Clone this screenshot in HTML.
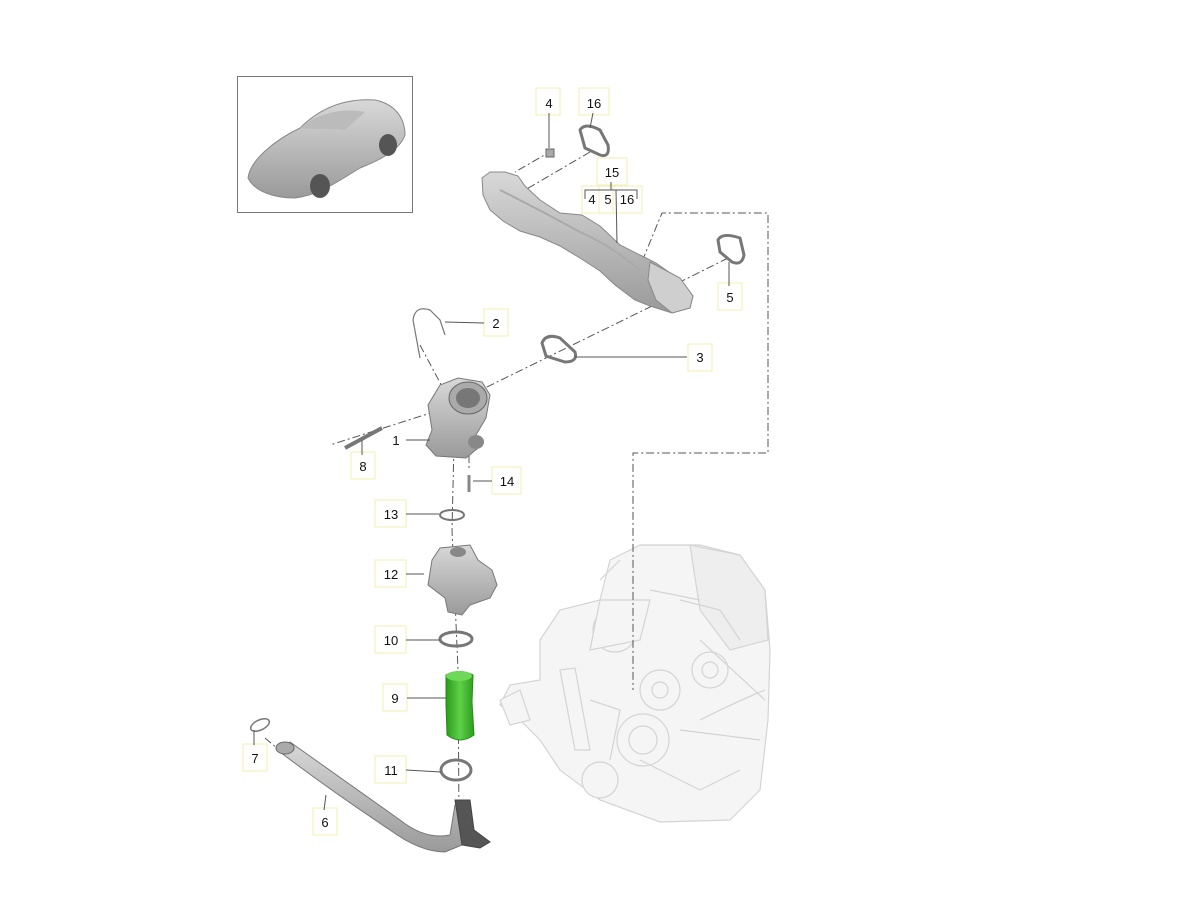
<!DOCTYPE html>
<html><head><meta charset="utf-8"><style>
html,body{margin:0;padding:0;background:#fff;width:1200px;height:900px;overflow:hidden}
text{font-family:"Liberation Sans",sans-serif;font-size:13px;fill:#111}
</style></head><body>
<svg width="1200" height="900" viewBox="0 0 1200 900" xmlns="http://www.w3.org/2000/svg">
<defs>
<linearGradient id="g" x1="0" y1="0" x2="0" y2="1"><stop offset="0" stop-color="#d8d8d8"/><stop offset="1" stop-color="#9a9a9a"/></linearGradient>
<linearGradient id="gr" x1="0" y1="0" x2="1" y2="0"><stop offset="0" stop-color="#2a9a1a"/><stop offset=".5" stop-color="#5fd04a"/><stop offset="1" stop-color="#2c9c1c"/></linearGradient>
</defs>
<rect x="237.5" y="76.5" width="175" height="136" fill="#fff" stroke="#777"/>
<path d="M248 178 C250 160 275 140 300 128 C320 108 345 98 375 100 C395 104 405 118 405 135 C400 150 380 160 360 168 C340 180 320 195 295 198 C275 198 255 192 248 178Z" fill="url(#g)" stroke="#888"/>
<ellipse cx="320" cy="186" rx="10" ry="12" fill="#555"/><ellipse cx="388" cy="145" rx="9" ry="11" fill="#555"/>
<path d="M300 128 C320 112 345 108 365 112 L345 130 C330 128 315 130 300 128Z" fill="#bbb"/>
<!-- engine -->
<g fill="#f5f5f5" stroke="#d4d4d4" stroke-width="1.2">
<path d="M540 640 L560 610 L600 600 L610 560 L640 545 L700 545 L740 555 L765 590 L770 650 L768 720 L760 790 L730 820 L660 822 L600 800 L560 770 L540 740 L520 720 L500 705 L510 685 L540 680Z"/>
<path d="M690 545 L740 555 L765 590 L768 640 L730 650 L700 610Z" fill="#eee"/>
<circle cx="643" cy="740" r="26"/><circle cx="643" cy="740" r="14"/><circle cx="660" cy="690" r="20"/><circle cx="660" cy="690" r="8"/><circle cx="710" cy="670" r="18"/><circle cx="710" cy="670" r="8"/><circle cx="615" cy="630" r="22"/><circle cx="600" cy="780" r="18"/>
<path d="M560 670 L575 750 L590 750 L575 668Z"/><path d="M500 700 L520 690 L530 720 L510 725Z"/>
<path d="M700 720 Q740 700 765 690" fill="none"/><path d="M650 590 L700 600" fill="none"/><path d="M600 580 L620 560" fill="none"/>
<path d="M590 650 L640 640 L650 600 L600 600Z"/><path d="M680 600 L720 610 L740 640" fill="none"/>
<path d="M700 640 L765 700" fill="none"/><path d="M590 700 L620 710 L610 760" fill="none"/>
<path d="M640 760 L700 790 L740 770" fill="none"/><path d="M680 730 L760 740" fill="none"/>
</g>
<!-- dash-dot -->
<g fill="none" stroke="#555" stroke-width="1" stroke-dasharray="8,3,2,3">
<path d="M636 276 L662 213 L768 213 L768 453 L633 453 L633 690"/>
<path d="M553 150 L515 172"/><path d="M590 152 L525 190"/>
<path d="M728 258 L680 282"/><path d="M652 306 L440 410 L330 445"/>
<path d="M420 345 L445 392"/><path d="M455 400 L452 530 L458 670 L459 820"/><path d="M469 455 L469 470"/><path d="M265 738 L285 755"/>
</g>
<!-- manifold -->
<path d="M482 178 L490 172 L505 172 L518 176 L525 186 L540 200 L560 213 L582 215 L600 226 L620 245 L642 256 L656 263 L680 280 L693 296 L690 308 L672 313 L650 306 L635 300 L615 285 L600 271 L580 258 L560 246 L540 237 L520 231 L503 221 L490 210 L483 195Z" fill="url(#g)" stroke="#888"/>
<path d="M650 262 L680 278 L693 296 L690 308 L672 313 L656 300 L648 280Z" fill="#cfcfcf" stroke="#888"/>
<path d="M500 190 Q540 210 580 232 Q610 245 640 270" fill="none" stroke="#aaa" stroke-width="2"/>
<rect x="546" y="149" width="8" height="8" fill="#aaa" stroke="#666"/>
<path d="M580 130 Q585 122 600 130 L608 145 Q610 158 600 155 L585 148Z" fill="none" stroke="#777" stroke-width="3"/>
<path d="M718 240 Q722 232 740 238 L744 255 Q742 266 732 262 L720 252Z" fill="none" stroke="#777" stroke-width="3"/>
<path d="M542 343 Q546 333 560 338 L575 352 Q578 362 565 362 L546 356Z" fill="none" stroke="#777" stroke-width="3"/>
<path d="M420 358 L413 320 Q415 305 430 310 L440 320 L445 335" fill="none" stroke="#777" stroke-width="1.2"/>
<!-- part 1 -->
<path d="M428 405 L440 385 L458 378 L482 382 L490 395 L486 418 L476 435 L478 448 L466 458 L436 456 L426 445 L432 430Z" fill="url(#g)" stroke="#777"/>
<ellipse cx="468" cy="398" rx="19" ry="16" fill="#aaa" stroke="#666"/><ellipse cx="468" cy="398" rx="12" ry="10" fill="#777"/>
<ellipse cx="476" cy="442" rx="8" ry="7" fill="#888"/>
<line x1="345" y1="448" x2="382" y2="428" stroke="#777" stroke-width="4"/>
<line x1="469" y1="475" x2="469" y2="492" stroke="#888" stroke-width="3"/>
<ellipse cx="452" cy="515" rx="12" ry="5" fill="none" stroke="#777" stroke-width="2"/>
<!-- part 12 -->
<path d="M432 560 L440 548 L470 545 L478 560 L492 570 L497 585 L490 598 L470 605 L462 615 L448 612 L445 598 L428 585Z" fill="url(#g)" stroke="#777"/>
<ellipse cx="458" cy="552" rx="8" ry="5" fill="#888"/>
<ellipse cx="456" cy="639" rx="16" ry="7" fill="none" stroke="#777" stroke-width="3"/>
<ellipse cx="456" cy="770" rx="15" ry="10" fill="none" stroke="#777" stroke-width="3"/>
<!-- green hose -->
<path d="M446 675 Q460 668 473 675 L472 702 L474 735 Q460 745 447 735 L446 705Z" fill="url(#gr)" stroke="#2a8a1a"/>
<ellipse cx="459" cy="676" rx="13" ry="5" fill="#6ed858"/>
<!-- pipe 6 -->
<path d="M280 752 Q330 790 390 830 Q420 852 445 852 L462 845 L468 805 L455 805 L450 835 Q425 840 400 820 L290 742Z" fill="url(#g)" stroke="#777"/>
<path d="M455 800 L470 800 L474 830 L490 842 L480 848 L462 845Z" fill="#555" stroke="#444"/>
<ellipse cx="285" cy="748" rx="9" ry="6" fill="#aaa" stroke="#666"/>
<ellipse cx="260" cy="725" rx="10" ry="5" fill="none" stroke="#777" stroke-width="1.5" transform="rotate(-25 260 725)"/>
<!-- label boxes -->
<g fill="#fff" stroke="#f3efb0" stroke-width="1">
<rect x="536" y="88" width="24" height="27"/><rect x="579" y="88" width="30" height="27"/>
<rect x="597" y="158" width="30" height="27"/><rect x="582" y="186" width="20" height="27"/><rect x="599" y="186" width="14" height="27"/><rect x="613" y="186" width="29" height="27"/>
<rect x="718" y="283" width="24" height="27"/><rect x="484" y="309" width="24" height="27"/><rect x="688" y="344" width="24" height="27"/>
<rect x="351" y="452" width="24" height="27"/><rect x="492" y="467" width="29" height="27"/>
<rect x="375" y="500" width="31" height="27"/><rect x="375" y="560" width="31" height="27"/><rect x="375" y="626" width="31" height="27"/>
<rect x="383" y="684" width="24" height="27"/><rect x="243" y="744" width="24" height="27"/><rect x="375" y="756" width="31" height="27"/><rect x="313" y="808" width="24" height="27"/>
</g>
<!-- leaders -->
<g stroke="#555" stroke-width="1" fill="none">
<line x1="549" y1="113" x2="549" y2="148"/><line x1="593" y1="113" x2="590" y2="128"/>
<path d="M585 199 L585 190 L637 190 L637 199"/><line x1="611" y1="182" x2="611" y2="190"/><line x1="616" y1="190" x2="617" y2="243"/>
<line x1="729" y1="286" x2="729" y2="262"/><line x1="484" y1="323" x2="445" y2="322"/>
<line x1="687" y1="357" x2="575" y2="357"/><line x1="406" y1="440" x2="430" y2="440"/>
<line x1="362" y1="455" x2="362" y2="440"/><line x1="492" y1="481" x2="473" y2="481"/>
<line x1="406" y1="514" x2="439" y2="514"/><line x1="406" y1="574" x2="424" y2="574"/>
<line x1="406" y1="640" x2="440" y2="640"/><line x1="407" y1="698" x2="446" y2="698"/>
<line x1="406" y1="770" x2="441" y2="772"/><line x1="254" y1="745" x2="254" y2="730"/>
<line x1="324" y1="810" x2="326" y2="795"/>
</g>
<g text-anchor="middle">
<text x="549" y="108">4</text><text x="594" y="108">16</text><text x="612" y="177">15</text>
<text x="592" y="204">4</text><text x="608" y="204">5</text><text x="627" y="204">16</text>
<text x="730" y="302">5</text><text x="496" y="328">2</text><text x="700" y="362">3</text>
<text x="396" y="445">1</text><text x="363" y="471">8</text><text x="507" y="486">14</text>
<text x="391" y="519">13</text><text x="391" y="579">12</text><text x="391" y="645">10</text>
<text x="395" y="703">9</text><text x="255" y="763">7</text><text x="391" y="775">11</text><text x="325" y="827">6</text>
</g>
</svg>
</body></html>
